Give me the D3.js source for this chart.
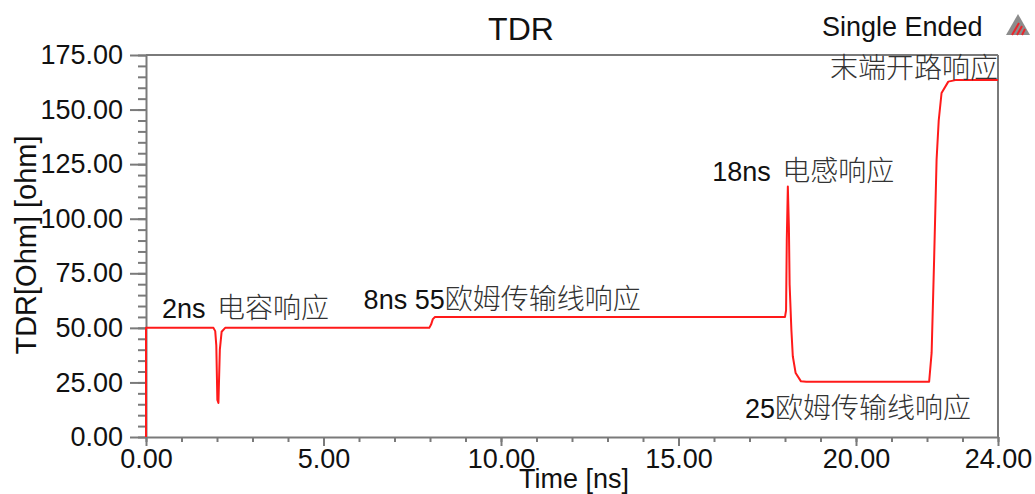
<!DOCTYPE html>
<html>
<head>
<meta charset="utf-8">
<script src="https://cdn.jsdelivr.net/npm/d3@7"></script>
<style>
  html, body { margin: 0; padding: 0; background: #fff; }
  svg { display: block; }
  text { font-family: "Liberation Sans", Arial, sans-serif; }
  .cjk { font-family: "Noto Sans CJK SC", sans-serif; font-weight: 300; fill: #333; }
</style>
</head>
<body>
<script>
// TDR waveform samples: time in ns, impedance in ohm
const timeNs = [0, 0, 1.90, 1.95, 1.98, 2.01, 2.04, 2.08, 2.13, 2.23,
  7.98, 8.03, 8.08, 8.14, 8.25,
  18.00, 18.03, 18.05, 18.08, 18.11, 18.13, 18.18, 18.22, 18.30, 18.45, 18.60,
  22.06, 22.13, 22.20, 22.27, 22.33, 22.41, 22.60, 22.80, 24.00];
const impedance = [0, 50, 50, 48.5, 42, 17, 15.6, 40, 48.2, 50,
  50, 51.5, 54, 55, 55,
  55, 58, 90, 114.8, 96, 70, 49, 37, 29.3, 25.5, 25.3,
  25.3, 38.5, 81, 127, 145, 157.6, 162.8, 163.5, 163.5];

const xTicks = [0, 5, 10, 15, 20, 24];
const yTicks = [0, 25, 50, 75, 100, 125, 150, 175];

// Annotations: [latin part, cjk part, x time, y value]
const notes = [
  ["2ns ", "电容响应", 0.45, 54.5],
  ["8ns 55", "欧姆传输线响应", 6.13, 58.5],
  ["18ns ", "电感响应", 15.95, 117.5],
  ["25", "欧姆传输线响应", 16.87, 8.8],
  ["", "末端开路响应", 19.27, 164.4]
];

const W = 1035, H = 494;
const m = { left: 146, right: 37, top: 55, bottom: 57 };

const svg = d3.select("body").append("svg").attr("width", W).attr("height", H);

const x = d3.scaleLinear().domain([0, 24]).range([m.left, W - m.right]);
const y = d3.scaleLinear().domain([0, 175]).range([H - m.bottom, m.top]);

const axisColor = "#7a7a7a";

// top and right frame
svg.append("line").attr("x1", x(0)).attr("x2", x(24)).attr("y1", y(175)).attr("y2", y(175))
  .attr("stroke", axisColor).attr("stroke-width", 2);
svg.append("line").attr("x1", x(24)).attr("x2", x(24)).attr("y1", y(175)).attr("y2", y(0))
  .attr("stroke", axisColor).attr("stroke-width", 2);

function styleAxis(g) {
  g.selectAll("path, line").attr("stroke", axisColor).attr("stroke-width", 2);
  g.selectAll("text").attr("fill", "#111").style("font-size", "27px")
    .style("font-family", '"Liberation Sans", Arial, sans-serif');
}

// minor ticks
svg.append("g").attr("transform", `translate(0,${y(0)})`)
  .call(d3.axisBottom(x).tickValues(d3.range(0, 25, 1)).tickSize(5).tickFormat(""))
  .call(g => { g.select(".domain").remove(); styleAxis(g); });
svg.append("g").attr("transform", `translate(${x(0)},0)`)
  .call(d3.axisLeft(y).tickValues(d3.range(0, 176, 5)).tickSize(8).tickFormat(""))
  .call(g => { g.select(".domain").remove(); styleAxis(g); });

// major axes
svg.append("g").attr("transform", `translate(0,${y(0)})`)
  .call(d3.axisBottom(x).tickValues(xTicks).tickSize(9).tickSizeOuter(0).tickPadding(3).tickFormat(d3.format(".2f")))
  .call(styleAxis);
svg.append("g").attr("transform", `translate(${x(0)},0)`)
  .call(d3.axisLeft(y).tickValues(yTicks).tickSize(16).tickSizeOuter(0).tickPadding(7).tickFormat(d3.format(".2f")))
  .call(styleAxis);

// waveform
const pts = timeNs.map((t, i) => [t, impedance[i]]);
svg.append("path").datum(pts)
  .attr("fill", "none").attr("stroke", "#ff1a1a").attr("stroke-width", 2)
  .attr("stroke-linejoin", "round")
  .attr("d", d3.line().x(d => x(d[0])).y(d => y(d[1])));

// titles
svg.append("text").attr("x", 521).attr("y", 40).attr("text-anchor", "middle")
  .style("font-size", "32px").attr("fill", "#111").text("TDR");
svg.append("text").attr("x", 822).attr("y", 36)
  .style("font-size", "27px").attr("fill", "#111").text("Single Ended");
svg.append("text").attr("x", 574).attr("y", 488).attr("text-anchor", "middle")
  .style("font-size", "27px").attr("fill", "#111").text("Time [ns]");
svg.append("text").attr("transform", "translate(36,245) rotate(-90)").attr("text-anchor", "middle")
  .style("font-size", "29px").attr("fill", "#111").text("TDR[Ohm] [ohm]");

// logo mark
const logo = svg.append("g").attr("transform", "translate(1006,14)");
logo.append("path").attr("d", "M12,0 L24,21 L0,21 Z").attr("fill", "#8c8c8c");
[[6, 21, 13, 9], [11, 21, 16, 12], [16, 21, 19, 15]].forEach(s =>
  logo.append("line").attr("x1", s[0]).attr("y1", s[1]).attr("x2", s[2]).attr("y2", s[3])
    .attr("stroke", "#e8262c").attr("stroke-width", 2));

// annotations
notes.forEach(n => {
  const t = svg.append("text").attr("x", x(n[2])).attr("y", y(n[3]));
  if (n[0]) t.append("tspan").style("font-size", "27px").attr("fill", "#111").text(n[0]);
  t.append("tspan").attr("class", "cjk").style("font-size", "28px")
    .attr("dx", n[0].endsWith(" ") ? 4 : 0).text(n[1]);
});
</script>
</body>
</html>
